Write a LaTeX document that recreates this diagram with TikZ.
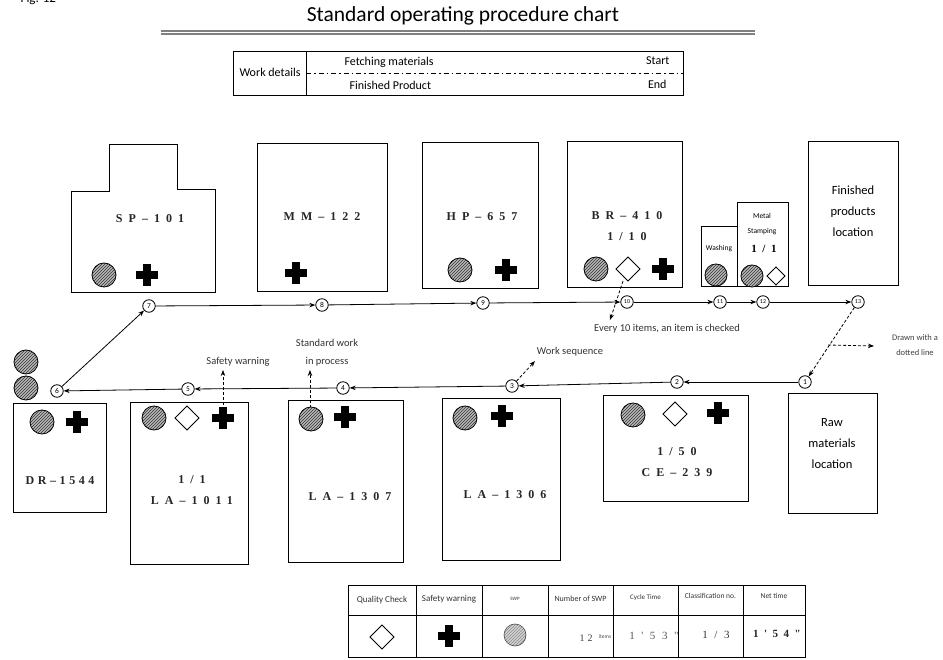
\documentclass[tikz,border=0pt]{standalone}
\usepackage{fontspec}
\setmainfont{Carlito}
\newfontfamily\codefont[LetterSpace=50]{Liberation Serif}
\newfontfamily\drfont[LetterSpace=30]{Liberation Serif}
\newfontfamily\plainserif[LetterSpace=30]{Liberation Serif}
\newfontfamily\wideserif[LetterSpace=60]{Liberation Serif}
\usetikzlibrary{arrows.meta,patterns}
\tikzset{
 box/.style={draw, line width=1pt, inner sep=0pt},
 num/.style={circle, draw, line width=0.8pt, inner sep=0pt, minimum size=12.5pt, font=\fontsize{7.5}{8}\selectfont},
 numd/.style={num, font=\fontsize{6}{6}\selectfont},
 flow/.style={line width=0.8pt, -{Stealth[length=6pt,width=4.5pt]}},
 dflow/.style={flow, dash pattern=on 3pt off 2pt},
 code/.style={font=\codefont\bfseries\fontsize{12}{21}\selectfont, align=center, text=black!85},
 lbl/.style={font=\fontsize{10.5}{12}\selectfont, text=black!80},
 tiny/.style={font=\fontsize{8.5}{15}\selectfont, text=black!75, align=center},
 sans/.style={font=\fontsize{12.5}{21}\selectfont, align=center},
 wdt/.style={font=\fontsize{12}{13}\selectfont},
 hdr/.style={font=\fontsize{7.5}{8}\selectfont, text=black!80},
 swp/.pic={\fill[gray!55] (0,0) circle (12); \path[pattern=north east lines, pattern color=black!80] (0,0) circle (12); \draw[line width=0.8pt] (0,0) circle (12);},
 swplight/.pic={\fill[gray!35] (0,0) circle (11); \path[pattern=north east lines, pattern color=black!45] (0,0) circle (11); \draw[line width=0.6pt, black!70] (0,0) circle (11);},
 warn/.pic={\fill[black] (-11,-4) rectangle (11,4); \fill[black] (-4,-11) rectangle (4,11);},
 qc/.pic={\draw[line width=0.9pt, fill=white] (0,-12) -- (12,0) -- (0,12) -- (-12,0) -- cycle;},
}
\begin{document}
\begin{tikzpicture}[x=1pt,y=-1pt]
\useasboundingbox (0,0) rectangle (943,660);
\fill[white] (0,0) rectangle (943,660);

% header
\node[anchor=base west, font=\fontsize{13}{14}\selectfont] (fig) at (17,3) {Fig. 12};
\node[font=\fontsize{21.5}{23}\selectfont] (title) at (463,16) {Standard operating procedure chart};
\draw[gray, line width=1.1pt] (161,31) -- (755,31);
\draw[gray, line width=1.1pt] (161,34) -- (755,34);

% work details table
\node[box, minimum width=450pt, minimum height=44pt] (wd) at (458,74) {};
\draw[line width=0.8pt] (306,52) -- (306,96);
\draw[line width=0.6pt, dash pattern=on 5pt off 3pt on 1.5pt off 3pt] (306,73) -- (683,73);
\node[wdt] (wdl) at (270,72) {Work details};
\node[wdt, anchor=west] (fetch) at (341,62) {Fetching materials};
\node[wdt, anchor=west] (fprod) at (346,85) {Finished Product};
\node[wdt, anchor=east] (start) at (673,61) {Start};
\node[wdt, anchor=east] (end) at (670,84) {End};

% top row equipment
\draw[line width=1pt] (71,192) -- (109,192) -- (109,145) -- (177,145) -- (177,190) -- (215,190) -- (215,293) -- (71,293) -- cycle;
\node[code] (sp) at (150,219) {SP–101};
\pic at (104,275) {swp};
\pic at (147,275) {warn};

\node[box, minimum width=130pt, minimum height=148pt] (mm) at (322,218) {};
\node[code] (mmt) at (322,217) {MM–122};
\pic at (296,273) {warn};

\node[box, minimum width=116pt, minimum height=146pt] (hp) at (480,216) {};
\node[code] (hpt) at (482,217) {HP–657};
\pic at (460,270) {swp};
\pic at (506,270) {warn};

\node[box, minimum width=115pt, minimum height=146pt] (br) at (624.5,215) {};
\node[code] (brt) at (627,226) {BR–410\\1/10};
\pic at (596,269) {swp};
\pic at (628,269) {qc};
\pic at (663,269) {warn};

\node[box, minimum width=36pt, minimum height=60pt] (wash) at (719,257) {};
\node[font=\fontsize{7.5}{8}\selectfont] (washt) at (719,249) {Washing};
\pic[scale=0.92] at (716,275) {swp};
\node[box, minimum width=51pt, minimum height=84pt] (metal) at (762.5,245) {};
\node[font=\fontsize{7.5}{15}\selectfont, align=center] (metalt) at (762,224.5) {Metal\\Stamping};
\node[font=\codefont\bfseries\fontsize{11}{11}\selectfont] (metaln) at (764,249) {1/1};
\pic[scale=0.92] at (752,276) {swp};
\pic[scale=0.75] at (776,276) {qc};

\node[box, minimum width=90pt, minimum height=144pt] (fin) at (853,214) {};
\node[sans] (fint) at (853,211.5) {Finished\\products\\location};

% top flow
\node[num] (c7) at (149,306) {7};
\node[num] (c8) at (322,305) {8};
\node[num] (c9) at (483,303) {9};
\node[numd] (c10) at (627,302) {10};
\node[numd] (c11) at (720,302) {11};
\node[numd] (c12) at (763,302) {12};
\node[numd] (c13) at (858,302) {13};
\draw[flow] (c7) -- (c8);
\draw[flow] (c8) -- (c9);
\draw[flow] (c9) -- (c10);
\draw[flow] (c10) -- (c11);
\draw[flow] (c11) -- (c12);
\draw[flow] (c12) -- (c13);

\coordinate (brq) at (623,281);
\coordinate (brqe) at (610,320);
\draw[dflow] (brq) -- (brqe);
\node[lbl] (every) at (667,329) {Every 10 items, an item is checked};

% bottom flow
\node[num] (c1) at (805,382) {1};
\node[num] (c2) at (677,382) {2};
\node[num] (c3) at (512,386) {3};
\node[num] (c4) at (343,388) {4};
\node[num] (c5) at (188,389) {5};
\node[num] (c6) at (57,391) {6};
\draw[flow] (c1) -- (c2);
\draw[flow] (c2) -- (c3);
\draw[flow] (c3) -- (c4);
\draw[flow] (c4) -- (c5);
\draw[flow] (c5) -- (c6);
\draw[flow] (c6) -- (c7);
\draw[dflow] (c13) -- (c1);

\coordinate (dl1) at (828,345);
\coordinate (dl2) at (874,346);
\draw[dflow] (dl1) -- (dl2);
\node[tiny] (dlt) at (915,345.5) {Drawn with a\\dotted line};

\coordinate (ws2) at (535,361);
\draw[dflow] (c3) -- (ws2);
\node[lbl] (ws) at (570,352) {Work sequence};

\coordinate (sw1) at (223,410);
\coordinate (sw2) at (223,370);
\draw[dflow] (sw1) -- (sw2);
\node[lbl] (swl) at (238,362) {Safety warning};

\coordinate (sp1) at (310,408);
\coordinate (sp2) at (310,370);
\draw[dflow] (sp1) -- (sp2);
\node[lbl, align=center, font=\fontsize{10.5}{18}\selectfont] (spl) at (327,353) {Standard work\\in process};

% left stack
\pic at (26,362) {swp};
\pic at (26,388) {swp};

% bottom row equipment
\node[box, minimum width=93pt, minimum height=108pt] (dr) at (59.5,458) {};
\node[font=\drfont\bfseries\fontsize{12}{21}\selectfont, text=black!85] (drt) at (60,481) {DR–1544};
\pic at (42,422) {swp};
\pic at (77,422) {warn};

\node[box, minimum width=118pt, minimum height=161pt] (la11) at (189,483.5) {};
\node[code] (la11t) at (192,490) {1/1\\LA–1011};
\pic at (154,418) {swp};
\pic at (187,418) {qc};
\pic at (223,418) {warn};

\node[box, minimum width=115pt, minimum height=161pt] (la07) at (345.5,481.5) {};
\node[code] (la07t) at (350,497) {LA–1307};
\pic at (311,419) {swp};
\pic at (345,417) {warn};

\node[box, minimum width=118pt, minimum height=161pt] (la06) at (501,479.5) {};
\node[code] (la06t) at (505,495) {LA–1306};
\pic at (465,418) {swp};
\pic at (502,416) {warn};

\node[box, minimum width=145pt, minimum height=105pt] (ce) at (675.5,448.5) {};
\node[code] (cet) at (677,462) {1/50\\CE–239};
\pic at (633,415) {swp};
\pic at (675,414) {qc};
\pic at (718,413) {warn};

\node[box, minimum width=89pt, minimum height=119pt] (raw) at (832.5,453.5) {};
\node[sans] (rawt) at (832,444) {Raw\\materials\\location};

% legend table
\node[box, minimum width=457pt, minimum height=72pt] (leg) at (576.5,621) {};
\draw[line width=0.8pt] (348,615) -- (805,615);
\foreach \x in {416,482,548,613,678,743} \draw[line width=0.8pt] (\x,585) -- (\x,657);
\node[hdr, font=\fontsize{9}{10}\selectfont] (h1) at (382,600) {Quality Check};
\node[hdr, font=\fontsize{9}{10}\selectfont] (h2) at (449,599) {Safety warning};
\node[hdr, font=\fontsize{5}{6}\selectfont] (h3) at (515,599) {SWP};
\node[hdr, font=\fontsize{8}{9}\selectfont] (h4) at (580.5,599) {Number of SWP};
\node[hdr, font=\fontsize{7}{8}\selectfont] (h5) at (645.5,598) {Cycle Time};
\node[hdr, font=\fontsize{7.5}{8}\selectfont] (h6) at (710.5,596) {Classification no.};
\node[hdr, font=\fontsize{7.5}{8}\selectfont] (h7) at (774,596) {Net time};
\pic at (382,637) {qc};
\pic at (449,636) {warn};
\pic at (515,635) {swplight};
\node[font=\plainserif\fontsize{10}{11}\selectfont, text=black!75] (v4) at (586,638) {12};
\node[font=\fontsize{5.5}{6}\selectfont, text=black!70] (v4b) at (605,637) {items};
\node[font=\wideserif\fontsize{11}{11}\selectfont, text=black!65] (v5) at (654,636) {1'53"};
\node[font=\wideserif\fontsize{11}{11}\selectfont, text=black!80] (v6) at (716,635) {1/3};
\node[font=\codefont\bfseries\fontsize{11}{11}\selectfont, text=black!85] (v7) at (777,634) {1'54"};
\end{tikzpicture}
\end{document}
